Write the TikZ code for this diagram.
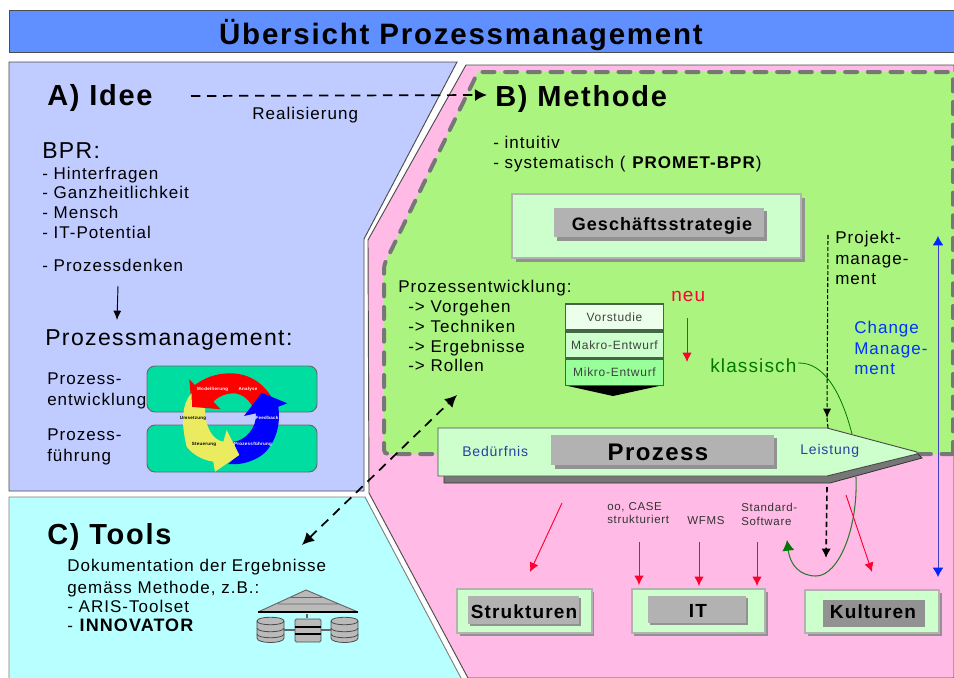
\documentclass[tikz,border=0pt]{standalone}
\usepackage{fontspec}
\setmainfont[LetterSpace=6]{Liberation Sans}
\usetikzlibrary{arrows.meta,calc}
\definecolor{bluebar}{HTML}{6090FF}
\definecolor{idee}{HTML}{C0CBFF}
\definecolor{tools}{HTML}{B8FFFF}
\definecolor{pinkbg}{HTML}{FFBBE5}
\definecolor{greenbg}{HTML}{ABF47F}
\definecolor{palegreen}{HTML}{CCFFCC}
\definecolor{teal}{HTML}{00DDA0}
\definecolor{midgrey}{HTML}{B2B2B2}
\definecolor{dgrey}{HTML}{777777}
\definecolor{kgrey}{HTML}{929292}
\definecolor{dgreen}{HTML}{007700}
\definecolor{redarr}{HTML}{FF0033}
\definecolor{bluetx}{HTML}{2A3F9F}
\definecolor{yell}{HTML}{EBEB60}
\definecolor{phaseframe}{HTML}{446644}
\newcommand{\px}[1]{\fontsize{\dimexpr#1pt*3/4\relax}{\dimexpr#1pt*9/10\relax}\selectfont}
\tikzset{
 x=0.75pt,y=-0.75pt,
 lbl/.style={inner sep=0pt,anchor=west,align=left},
 hd/.style={lbl,font=\px{29}\bfseries},
 body/.style={lbl,font=\px{17}},
 line/.style={inner sep=0pt,anchor=base west,font=\px{17}},
 small/.style={lbl,font=\px{11.5}},
 redline/.style={redarr,line width=0.7pt,-{Latex[length=7pt,width=7pt]}},
 dasharrow/.style={black,line width=1.3pt,dash pattern=on 7pt off 5pt,-{Latex[length=9pt,width=9pt]}},
 greybox/.style={inner sep=0pt,font=\px{19}\bfseries,text=black},
 shadowbox/.style={fill=palegreen,draw=midgrey,line width=0.9pt},
 gdrum/.style={fill=midgrey!90!white,draw=black!70,line width=0.6pt},
 tiny/.style={font=\px{4.5}\bfseries,inner sep=0pt},
 phase/.style={draw=phaseframe,line width=0.8pt,inner sep=0pt,minimum width=73.5pt,minimum height=19.5pt,font=\px{12},text=black!75},
}
\begin{document}
\begin{tikzpicture}
\useasboundingbox (0,0) rectangle (954,678);
\fill[white] (0,0) rectangle (954,678);
% title
\path[fill=bluebar,draw=black!70,line width=0.7pt] (9,10) rectangle (954,52);
\node[inner sep=0pt,font=\px{29.5}\bfseries,text=black] (title) at (461,35) {Übersicht Prozessmanagement};
% panels
\path[fill=idee,draw=black!70,line width=0.7pt] (9,62) -- (457,62) -- (364,239) -- (364,491) -- (9,491) -- cycle;
\path[fill=tools] (9,497) -- (365,497) -- (461,678) -- (9,678) -- cycle;
\draw[black!50,line width=0.7pt] (9,678) -- (9,497) -- (365,497) -- (461,678);
\path[fill=pinkbg,draw=black!70,line width=0.7pt] (466,65) -- (954,65) -- (954,678) -- (468,678) -- (369,493) -- (368,240) -- cycle;
% green dashed
\path[fill=greenbg] (478,72) -- (954,72) -- (954,454) -- (384,454) -- (384,265) -- cycle;
\draw[dgrey,line width=3pt,dash pattern=on 9pt off 8pt,line cap=round,rounded corners=3pt] (953,454) -- (953,72) -- (478,72) -- (384,265) -- (384,454) -- (953,454);
% headings
\node[hd] (a) at (47,98) {A) Idee};
\node[hd] (b) at (495,99) {B) Methode};
\node[hd] (c) at (47,537) {C) Tools};
\coordinate (arA) at (191,96);
\coordinate (arB) at (487,95);
\draw[dasharrow] (arA) -- (arB);
\node[line] (real) at (252,119) {Realisierung};
% left list
\node[line,font=\px{23}] (bpr) at (42,158) {BPR:};
\node[line] (l1) at (42,179.3) {- Hinterfragen};
\node[line] (l2) at (42,198.5) {- Ganzheitlichkeit};
\node[line] (l3) at (42,218) {- Mensch};
\node[line] (l4) at (42,238) {- IT-Potential};
\node[line] (l5) at (42,271.7) {- Prozessdenken};
\coordinate (ds) at (118,286);
\coordinate (de) at (117,320);
\draw[black,line width=0.7pt,-{Latex[length=7pt,width=6pt]}] (ds) -- (de);
\node[lbl,font=\px{23}] (pm) at (45,340) {Prozessmanagement:};
\node[body] (pe) at (47,391) {Prozess-\\entwicklung};
\node[body] (pf) at (47,447) {Prozess-\\führung};
% teal boxes
\path[fill=teal,draw=black!60,line width=0.7pt,rounded corners=6pt] (147,366) rectangle (317,412);
\path[fill=teal,draw=black!60,line width=0.7pt,rounded corners=6pt] (147,425) rectangle (317,472);
% cycle arrows
\path[fill=red] (273.3,400) .. controls (262,380) and (246,373.3) .. (230,373.3) .. controls (216,373.3) and (204,378) .. (195,385) -- (189.3,379.3) -- (191.7,406.7) -- (220.7,409.3) -- (213.3,401.7) .. controls (219,396) and (226,393.3) .. (233.3,393.3) .. controls (241,393.3) and (247,398) .. (251.7,405) -- cycle;
\path[fill=blue] (261.7,392.7) -- (287.3,403.3) -- (278.3,406.7) .. controls (282,432) and (270,452) .. (256.7,458.3) .. controls (248,463) and (238,465) .. (228.3,464) -- (238.3,455) -- (233.3,441.7) .. controls (245,441) and (257,428) .. (256,413.3) -- (244,416) -- cycle;
\path[fill=yell] (191.5,393.3) .. controls (183,402) and (180,420) .. (186.7,446.7) .. controls (192,454) and (202,460) .. (213.3,461.7) -- (215,471.7) -- (239.3,455) -- (226.7,430) -- (223.3,441.7) .. controls (213,440) and (205,428) .. (205,408.3) -- (192,407) -- cycle;
\node[tiny,text=white] (c1) at (212.7,389) {Modellierung};
\node[tiny,text=white] (c2) at (248,389) {Analyse};
\node[tiny,text=white] (c3) at (267,418) {Feedback};
\node[tiny,text=white] (c4) at (253,444) {Prozessführung};
\node[tiny,text=black] (c5) at (193,418) {Umsetzung};
\node[tiny,text=black] (c6) at (204,444) {Steuerung};
% tools text
\node[line] (t1) at (67,571) {Dokumentation der Ergebnisse};
\node[line] (t2) at (67,593) {gemäss Methode, z.B.:};
\node[line] (t3) at (67,612) {- ARIS-Toolset};
\node[line] (t4) at (67,631) {- \textbf{\px{18}INNOVATOR}};
% tools icon
\path[gdrum,draw=none] (258,612) -- (306,590) -- (358,612) -- cycle;
\draw[black!60,line width=0.7pt] (258,612) -- (306,590) -- (358,612) (291,597.5) -- (322,597.5) (278,604) -- (338,604);
\draw[black,line width=0.8pt] (258,612) -- (358,612);
\draw[black!60,line width=1.2pt] (307,614) -- (307,618);
\foreach \xx in {270.5,344.5}{
 \path[gdrum] (\xx-13.5,621) .. controls (\xx-13.5,616) and (\xx+13.5,616) .. (\xx+13.5,621) -- (\xx+13.5,638) .. controls (\xx+13.5,644) and (\xx-13.5,644) .. (\xx-13.5,638) -- cycle;
 \foreach \yy in {621,628,634}
  \draw[black!70,line width=0.6pt] (\xx-13.5,\yy) .. controls (\xx-13.5,\yy+5) and (\xx+13.5,\yy+5) .. (\xx+13.5,\yy);
}
\path[gdrum,rounded corners=1pt] (295,619) rectangle (321,642);
\draw[black,line width=0.8pt] (295,627) -- (321,627) (295,634) -- (321,634);
\draw[black!60,line width=1.2pt] (284,630) -- (295,630) (321,630) -- (331,630);
% methode text
\node[line] (m1) at (493,148.5) {- intuitiv};
\node[line] (m2) at (493,168) {- systematisch ( \textbf{PROMET-BPR})};
% Geschaeftsstrategie
\fill[kgrey] (516,198) rectangle (805,262);
\path[fill=palegreen,draw=midgrey,line width=0.8pt] (512,194) rectangle (801,258);
\fill[kgrey] (557,211) rectangle (767,241);
\fill[midgrey] (554,208) rectangle (764,237);
\node[greybox,font=\px{18}\bfseries] (gs) at (662,226) {Geschäftsstrategie};
% Prozessentwicklung
\node[line] (p0) at (398,292) {Prozessentwicklung:};
\node[line] (p1) at (408,312) {-> Vorgehen};
\node[line] (p2) at (408,332) {-> Techniken};
\node[line] (p3) at (408,352) {-> Ergebnisse};
\node[line] (p4) at (408,371) {-> Rollen};
% phases
\path[fill=black] (568,386) -- (659,386) -- (613,396) -- cycle;
\node[phase,fill=green!8!white] (v1) at (614.5,317) {Vorstudie};
\node[phase,fill=palegreen] (v2) at (614.5,345) {Makro-Entwurf};
\node[phase,fill=green!40!white] (v3) at (614.5,372.5) {Mikro-Entwurf};
\node[lbl,font=\px{19},text=redarr] (neu) at (671,296) {neu};
\coordinate (n1) at (687,318);
\coordinate (n2) at (687,362);
\draw[redline] (n1) -- (n2);
\node[lbl,font=\px{19},text=dgreen] (kl) at (710,366) {klassisch};
% right
\node[body] (pm1) at (835,258) {Projekt-\\manage-\\ment};
\node[lbl,font=\px{17},text=blue!80!cyan] (cm) at (854,348) {Change\\Manage-\\ment};
\coordinate (bl1) at (938,236);
\coordinate (bl2) at (938,577);
\draw[blue!50!gray,line width=0.7pt,{Latex[length=7pt,width=8pt,color=blue!85!cyan]}-{Latex[length=7pt,width=8pt,color=blue!85!cyan]}] (bl1) -- (bl2);
% dashed black thin upper
\coordinate (pjs) at (828,235);
\coordinate (pjm) at (827,418);
\coordinate (pje) at (828,428);
\draw[black,line width=0.8pt,dash pattern=on 3pt off 1.5pt,-{Latex[length=7pt,width=6pt]}] (pjs) -- (pjm);
\draw[black,line width=0.8pt,dash pattern=on 3pt off 1.5pt] (pjm) -- (pje);
% prozess arrow
\path[fill=dgrey,draw=black!80,line width=0.6pt] (444,436) -- (444,483) -- (830,483) -- (922,458) -- (917,453) -- (830,436) -- cycle;
\path[fill=palegreen,draw=black!70,line width=0.7pt] (438,428) -- (827,428) -- (917,452) -- (917,454) -- (827,476) -- (438,476) -- cycle;
\fill[kgrey] (555,438) rectangle (777,469);
\fill[midgrey] (551,435) rectangle (774,465);
\node[inner sep=0pt,font=\px{24}\bfseries] (pz) at (658,452) {Prozess};
\node[lbl,font=\px{14},text=bluetx] (bed) at (462,451) {Bedürfnis};
\node[lbl,font=\px{14},text=bluetx] (lei) at (800,451) {Leistung};
% klassisch curve
\coordinate (ks) at (798,363);
\coordinate (ke) at (787,540);
\draw[dgreen,line width=0.6pt] (ks) .. controls (825,362) and (842,395) .. (852,434);
\draw[dgreen!60!dgrey,line width=0.8pt,-{Latex[length=8pt,width=9pt,color=dgreen]}] (856,477) .. controls (858,530) and (838,576) .. (816,576) .. controls (800,576) and (790,565) .. (ke);
% labels under
\node[small,text=black!80] (oo) at (607,513) {oo, CASE\\strukturiert};
\node[small,text=black!80,anchor=center] (wf) at (706,521) {WFMS};
\node[small,text=black!80] (st) at (741,514) {Standard-\\Software};
% dashed diag
\coordinate (tl) at (302,545);
\coordinate (tr) at (457,395);
\draw[dasharrow,{Latex[length=9pt,width=9pt]}-{Latex[length=9pt,width=9pt]}] (tl) -- (tr);
% black dashed lower
\coordinate (kds) at (827,487);
\coordinate (kde) at (826,558);
\draw[black,line width=1.2pt,dash pattern=on 4pt off 2.5pt,-{Latex[length=7pt,width=7pt]}] (kds) -- (kde);
% boxes
\fill[kgrey] (460,592) rectangle (594,636);
\path[shadowbox] (457,589) rectangle (592,633);
\fill[kgrey] (470,598) rectangle (581,626);
\fill[midgrey] (468,596) rectangle (579,624);
\node[greybox] (str) at (524,612) {Strukturen};
\fill[kgrey] (634,592) rectangle (768,636);
\path[shadowbox] (632,589) rectangle (765,633);
\fill[kgrey] (650,598) rectangle (748,625);
\fill[midgrey] (648,596) rectangle (746,623);
\node[greybox] (it) at (698,611) {IT};
\fill[kgrey] (808,593) rectangle (942,636);
\path[shadowbox] (805,590) rectangle (939,633);
\fill[kgrey] (823,600) rectangle (925,627);
\node[greybox] (ku) at (873,612) {Kulturen};
% red arrows
\coordinate (r1s) at (562,503);
\coordinate (r1e) at (530,572);
\draw[redline] (r1s) -- (r1e);
\coordinate (r2s) at (639,542);
\coordinate (r2e) at (639,585);
\draw[redline] (r2s) -- (r2e);
\coordinate (r3s) at (699,542);
\coordinate (r3e) at (699,586);
\draw[redline] (r3s) -- (r3e);
\coordinate (r4s) at (757,542);
\coordinate (r4e) at (757,586);
\draw[redline] (r4s) -- (r4e);
\coordinate (r5s) at (846,495);
\coordinate (r5e) at (872,572);
\draw[redline] (r5s) -- (r5e);
\end{tikzpicture}
\end{document}
